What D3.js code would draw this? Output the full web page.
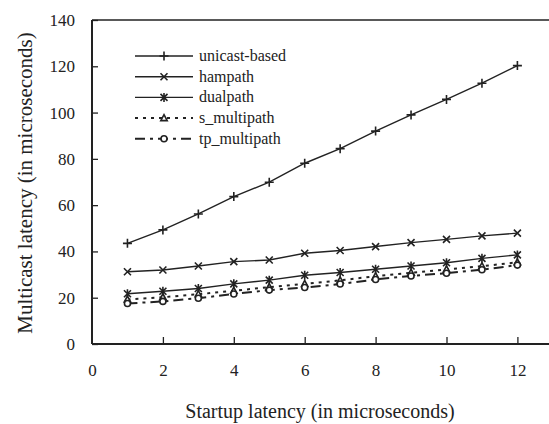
<!DOCTYPE html>
<html>
<head>
<meta charset="utf-8">
<script src="https://cdn.jsdelivr.net/npm/d3@7"></script>
<style>
  body { margin: 0; background: #fff; }
</style>
</head>
<body>
<div id="chart"></div>
<script>
// ---- DATA -----------------------
var startup = [1, 2, 3, 4, 5, 6, 7, 8, 9, 10, 11, 12];
var unicastBased = [43.5, 49.3, 56.2, 63.7, 69.9, 78.1, 84.4, 92.0, 99.0, 105.7, 112.7, 120.3];
var hampath = [31.2, 32.0, 33.7, 35.6, 36.3, 39.2, 40.4, 42.1, 43.8, 45.2, 46.7, 47.9];
var dualpath = [21.7, 22.8, 24.0, 26.0, 27.6, 29.7, 30.9, 32.3, 33.7, 35.1, 37.0, 38.5];
var sMultipath = [19.2, 20.2, 21.5, 23.0, 24.6, 26.0, 27.5, 29.3, 30.8, 32.2, 33.6, 35.3];
var tpMultipath = [17.5, 18.4, 19.8, 21.6, 23.3, 24.4, 25.9, 27.9, 29.4, 30.6, 32.1, 34.1];
var seriesNames = ["unicast-based", "hampath", "dualpath", "s_multipath", "tp_multipath"];
var xTicks = [0, 2, 4, 6, 8, 10, 12];
var yTicks = [0, 20, 40, 60, 80, 100, 120, 140];

var series = [
    { name: seriesNames[0], values: unicastBased, marker: "plus", dash: null },
    { name: seriesNames[1], values: hampath, marker: "cross", dash: null },
    { name: seriesNames[2], values: dualpath, marker: "star", dash: null },
    { name: seriesNames[3], values: sMultipath, marker: "triangle", dash: "3,5" },
    { name: seriesNames[4], values: tpMultipath, marker: "circle", dash: "10,5,3,5" }
];

// ---- SVG + scales -----------------------
var W = 549, H = 424;
var serif = "'Liberation Serif'";
var ink = "#222";

var svg = d3.select("#chart").append("svg")
    .attr("width", W)
    .attr("height", H);

var x = d3.scaleLinear().domain([0, 13]).range([92, 92 + 13 * 35.45]);
var y = d3.scaleLinear().domain([0, 140]).range([344, 20]);

// axes
var yAxis = svg.append("g")
    .attr("transform", "translate(" + x(0) + ",0)")
    .call(d3.axisLeft(y).tickValues(yTicks).tickSizeInner(-6).tickSizeOuter(0).tickPadding(17));

var xAxis = svg.append("g")
    .attr("transform", "translate(0," + y(0) + ")")
    .call(d3.axisBottom(x).tickValues(xTicks).tickSizeInner(-7).tickSizeOuter(0).tickPadding(20));

[yAxis, xAxis].forEach(function (a) {
    a.attr("font-family", null).attr("font-size", null);
    a.select(".domain").remove();
    a.selectAll("line").attr("stroke", ink).attr("stroke-width", 1.3);
    a.selectAll("text")
        .style("font-family", serif)
        .style("font-size", "17px")
        .style("fill", ink);
});
xAxis.selectAll(".tick").filter(function (d) { return d == 0; }).select("line").remove();

// frame lines: left, bottom, top
svg.append("line").attr("x1", x(0)).attr("x2", x(0)).attr("y1", y(140)).attr("y2", y(0))
    .attr("stroke", ink).attr("stroke-width", 2);
svg.append("line").attr("x1", x(0)).attr("x2", W).attr("y1", y(0)).attr("y2", y(0))
    .attr("stroke", ink).attr("stroke-width", 2);
svg.append("line").attr("x1", x(0)).attr("x2", W).attr("y1", y(140)).attr("y2", y(140))
    .attr("stroke", ink).attr("stroke-width", 1.5);

// axis titles
svg.append("text")
    .attr("x", 320).attr("y", 418)
    .attr("text-anchor", "middle")
    .style("font-family", serif)
    .style("font-size", "20px")
    .style("fill", ink)
    .text("Startup latency (in microseconds)");

svg.append("text")
    .attr("transform", "translate(32,183) rotate(-90)")
    .attr("text-anchor", "middle")
    .style("font-family", serif)
    .style("font-size", "21px")
    .style("fill", ink)
    .text("Multicast latency (in microseconds)");

// ---- markers -----------------------
function markerPath(kind) {
    if (kind == "plus") return "M-4.5,0H4.5M0,-4.5V4.5";
    if (kind == "cross") return "M-3.5,-3.5L3.5,3.5M-3.5,3.5L3.5,-3.5";
    if (kind == "star") return "M-3.5,-3.5L3.5,3.5M-3.5,3.5L3.5,-3.5M0,-4.5V4.5";
    if (kind == "triangle") return "M0,-3.5L3.2,2.5L-3.2,2.5Z";
    return "M-3,0A3,3 0 1,0 3,0A3,3 0 1,0 -3,0Z";
}

var line = d3.line()
    .x(function (d, i) { return x(startup[i]); })
    .y(function (d) { return y(d); });

series.forEach(function (s) {
    svg.append("path")
        .datum(s.values)
        .attr("d", line)
        .attr("fill", "none")
        .attr("stroke", ink)
        .attr("stroke-width", s.dash ? 2 : 1.4)
        .attr("stroke-dasharray", s.dash);

    svg.selectAll(".m-" + s.marker)
        .data(s.values)
        .enter().append("path")
        .attr("class", "m-" + s.marker)
        .attr("transform", function (d, i) { return "translate(" + x(startup[i]) + "," + y(d) + ")"; })
        .attr("d", markerPath(s.marker))
        .attr("fill", (s.marker == "triangle" || s.marker == "circle") ? "#fff" : "none")
        .attr("stroke", ink)
        .attr("stroke-width", 1.6);
});

// ---- legend -----------------------
var legend = svg.append("g").attr("transform", "translate(135,56)");
var rows = legend.selectAll(".row")
    .data(series)
    .enter().append("g")
    .attr("class", "row")
    .attr("transform", function (d, i) { return "translate(0," + (i * 20.7) + ")"; });

rows.append("line")
    .attr("x1", 0).attr("x2", 58)
    .attr("stroke", ink)
    .attr("stroke-width", function (d) { return d.dash ? 2 : 1.4; })
    .attr("stroke-dasharray", function (d) { return d.dash; });

rows.append("path")
    .attr("transform", "translate(29,0)")
    .attr("d", function (d) { return markerPath(d.marker); })
    .attr("fill", function (d) { return (d.marker == "triangle" || d.marker == "circle") ? "#fff" : "none"; })
    .attr("stroke", ink)
    .attr("stroke-width", 1.6);

rows.append("text")
    .attr("x", 64).attr("y", 5)
    .style("font-family", serif)
    .style("font-size", "16px")
    .style("fill", ink)
    .text(function (d) { return d.name; });
</script>
</body>
</html>
